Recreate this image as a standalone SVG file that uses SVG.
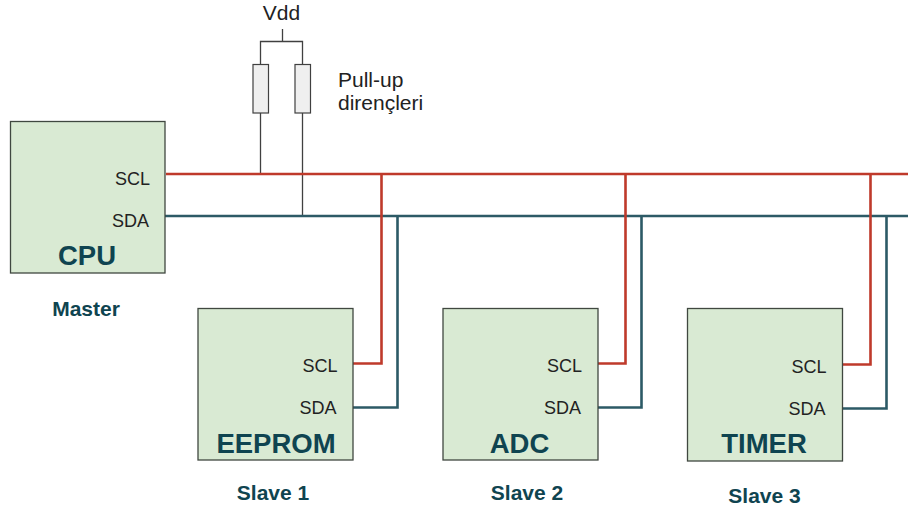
<svg xmlns="http://www.w3.org/2000/svg" width="908" height="511" viewBox="0 0 908 511">
<style>
text{font-family:"Liberation Sans",Arial,sans-serif}
.box{fill:#d9ead3;stroke:#404840;stroke-width:1.3}
.res{fill:#efefef;stroke:#404040;stroke-width:1.2}
.pin{font-size:18px;fill:#222;text-anchor:end}
.name{font-size:27.500px;font-weight:bold;fill:#0f4450;text-anchor:middle}
.role{font-size:21px;font-weight:bold;fill:#0f4450;text-anchor:middle}
.lab{font-size:21px;fill:#222}
.scl{fill:none;stroke:#bf3a2b;stroke-width:2.6}
.sda{fill:none;stroke:#2c5a66;stroke-width:2.6}
.wire{fill:none;stroke:#404040;stroke-width:1.3}
</style>
<rect width="908" height="511" fill="#fff"/>
<g id="connectors">
<path class="wire" d="M282.500 29V41.500M260.500 65V41.500H302.500V65M260.500 113V174M302.500 113V216"/>
<path class="sda" d="M165 216H908M397.500 216V407.500H353M641.500 216V407.500H598M886.500 216V408.500H842"/>
<path class="scl" d="M166 174H908M381.500 174V363.500H353M625.500 174V363.500H598M870.500 174V364.500H842"/>
</g>
<g id="vdd"><text class="lab" x="281.500" y="20" text-anchor="middle">Vdd</text></g>
<g id="r1"><rect class="res" x="253" y="64.500" width="15.500" height="48.500"/></g>
<g id="r2"><rect class="res" x="295" y="64.500" width="15.500" height="48.500"/></g>
<g id="pullup"><text class="lab" x="338" y="87">Pull-up</text><text class="lab" x="338" y="110">dirençleri</text></g>
<g id="cpu"><rect class="box" x="10.500" y="121.500" width="154.500" height="151.500"/>
<text class="pin" x="150" y="185">SCL</text><text class="pin" x="149" y="227">SDA</text>
<text class="name" x="87" y="265">CPU</text><text class="role" x="86" y="316">Master</text></g>
<g id="eeprom"><rect class="box" x="198" y="308.500" width="155" height="151.500"/>
<text class="pin" x="337.500" y="372">SCL</text><text class="pin" x="336.500" y="414">SDA</text>
<text class="name" x="276" y="453">EEPROM</text><text class="role" x="273" y="500">Slave 1</text></g>
<g id="adc"><rect class="box" x="443" y="308.500" width="155" height="151.500"/>
<text class="pin" x="582" y="372">SCL</text><text class="pin" x="581" y="414">SDA</text>
<text class="name" x="519.500" y="453">ADC</text><text class="role" x="527" y="500">Slave 2</text></g>
<g id="timer"><rect class="box" x="687.500" y="308.500" width="155" height="152.500"/>
<text class="pin" x="826.500" y="373">SCL</text><text class="pin" x="825.500" y="415">SDA</text>
<text class="name" x="764" y="453">TIMER</text><text class="role" x="764.500" y="503">Slave 3</text></g>
</svg>
